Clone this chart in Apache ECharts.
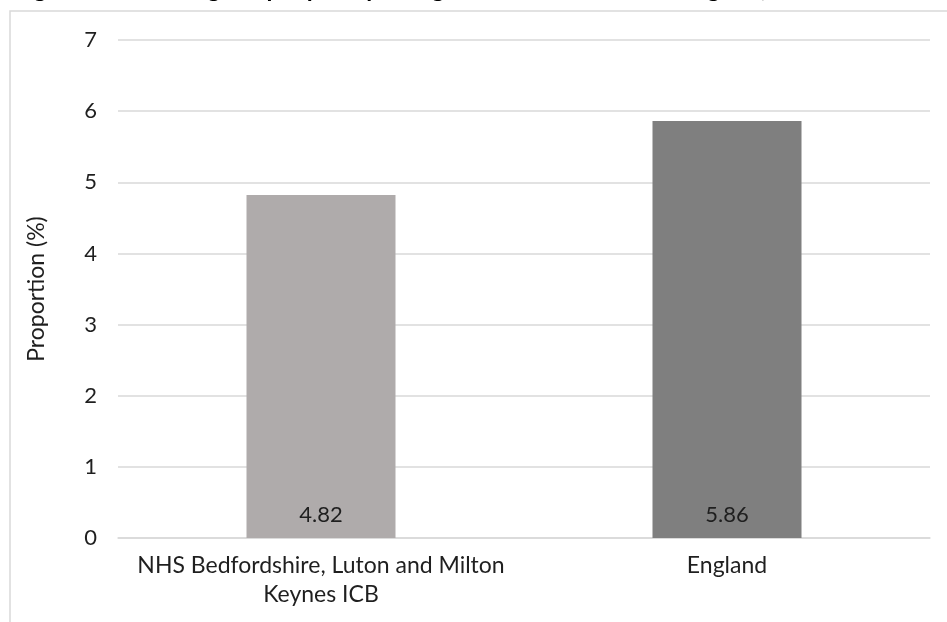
<!DOCTYPE html>
<html>
<head>
<meta charset="utf-8">
<script src="https://cdn.jsdelivr.net/npm/echarts@6/dist/echarts.min.js"></script>
<style>
html,body{margin:0;padding:0;background:#fff;}
#chart{width:947px;height:622px;}
</style>
</head>
<body>
<div id="chart"></div>
<script>
const categories = ["NHS Bedfordshire, Luton and Milton\nKeynes ICB", "England"];
const values = [4.82, 5.86];
const barColors = ["#AFABAB", "#7F7F7F"];
const yTicks = [0, 1, 2, 3, 4, 5, 6, 7];
const titleText = "Figure 3: Percentage of people reporting their main health as not good, 2021";
const yAxisTitle = "Proportion (%)";

const chart = echarts.init(document.getElementById('chart'), null, {renderer: 'canvas'});
const font = 'Lato, "Open Sans", sans-serif';

chart.setOption({
  animation: false,
  backgroundColor: '#ffffff',
  graphic: [
    {
      type: 'rect',
      shape: {x: 10, y: 11, width: 2000, height: 2000},
      style: {fill: 'none', stroke: '#D9D9D9', lineWidth: 1.5},
      silent: true
    },
    {
      type: 'text',
      left: 14,
      top: -23,
      style: {text: titleText, font: 'bold 24px ' + font, fill: '#000'},
      silent: true
    }
  ],
  grid: {left: 118, right: 17, top: 40, bottom: 84},
  xAxis: {
    type: 'category',
    data: categories,
    axisTick: {show: false},
    axisLine: {show: true, lineStyle: {color: '#D9D9D9', width: 1.5}},
    axisLabel: {
      color: '#1f1f1f',
      fontFamily: font,
      fontSize: 23,
      lineHeight: 29,
      margin: 13,
      interval: 0
    }
  },
  yAxis: {
    type: 'value',
    min: 0,
    max: 7,
    interval: 1,
    name: yAxisTitle,
    nameLocation: 'middle',
    nameGap: 70,
    nameTextStyle: {color: '#1f1f1f', fontFamily: font, fontSize: 23},
    axisLine: {show: false},
    axisTick: {show: false},
    axisLabel: {
      color: '#1f1f1f',
      fontFamily: font,
      fontSize: 22,
      margin: 21,
      formatter: function (v) { return yTicks.indexOf(v) >= 0 ? String(v) : ''; }
    },
    splitLine: {show: true, lineStyle: {color: '#D9D9D9', width: 1.5}}
  },
  series: [{
    type: 'bar',
    data: values.map((v, i) => ({value: v, itemStyle: {color: barColors[i]}})),
    barWidth: '36.7%',
    label: {
      show: true,
      position: 'insideBottom',
      distance: 12,
      color: '#1f1f1f',
      fontFamily: font,
      fontSize: 22,
      formatter: function (p) { return p.value.toFixed(2); }
    }
  }]
});
</script>
</body>
</html>
